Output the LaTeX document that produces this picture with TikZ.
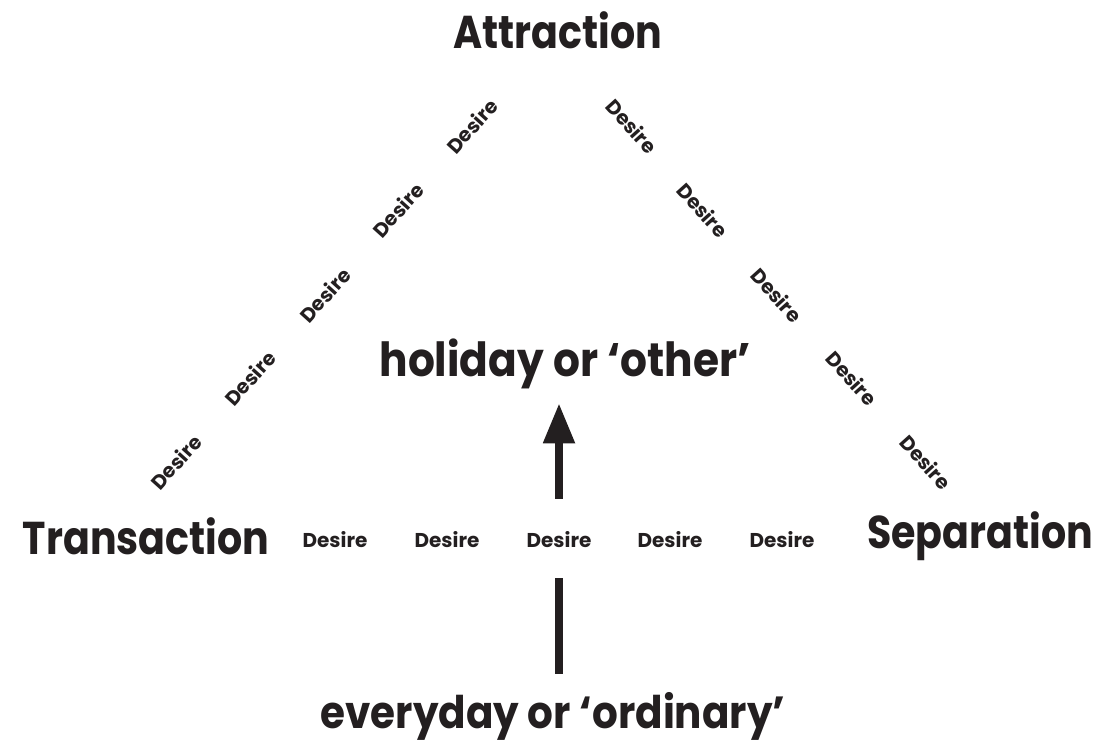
\documentclass[tikz,border=0pt]{standalone}
\usepackage{fontspec}
\setmainfont{Poppins}
\newfontfamily\popnarrow{Poppins}[FakeStretch=0.86]
\newfontfamily\popmid{Poppins}[FakeStretch=0.9]
\usetikzlibrary{arrows.meta}
\definecolor{ink}{HTML}{231F20}
\tikzset{
	big/.style={text=ink, font=\popnarrow\fontsize{46}{50}\selectfont\bfseries, inner sep=0pt},
	pole/.style={text=ink, font=\popmid\fontsize{45}{50}\selectfont\bfseries, inner sep=0pt},
	desire/.style={text=ink, font=\fontsize{20}{22}\selectfont\bfseries, inner sep=0pt},
	bar/.style={draw=ink, line width=8pt}
}
\begin{document}
\begin{tikzpicture}[x=1pt, y=-1pt]
	\useasboundingbox (0, 0) rectangle (1107, 744);
	% Corners and poles:
	\node[big] (attr) at (558, 30) {Attraction};
	\node[big] (trans) at (146, 536) {Transaction};
	\node[big] (sep) at (980, 536) {Separation};
	\node[pole, font=\popmid\fontsize{47}{50}\selectfont\bfseries] (other) at (565, 364) {holiday or ‘other’};
	\node[pole] (ordin) at (553, 716) {everyday or ‘ordinary’};
	% Desire along the base:
	\node[desire] (b1) at (335, 540) {Desire};
	\node[desire] (b2) at (447, 540) {Desire};
	\node[desire] (b3) at (559, 540) {Desire};
	\node[desire] (b4) at (670, 540) {Desire};
	\node[desire] (b5) at (782, 540) {Desire};
	% Desire along the left side:
	\node[desire, rotate=48] (l1) at (176, 462) {Desire};
	\node[desire, rotate=48] (l2) at (250, 378) {Desire};
	\node[desire, rotate=48] (l3) at (325, 295) {Desire};
	\node[desire, rotate=48] (l4) at (398, 210) {Desire};
	\node[desire, rotate=48] (l5) at (472, 126) {Desire};
	% Desire along the right side:
	\node[desire, rotate=-48] (r1) at (632, 126) {Desire};
	\node[desire, rotate=-48] (r2) at (703, 210) {Desire};
	\node[desire, rotate=-48] (r3) at (777, 295) {Desire};
	\node[desire, rotate=-48] (r4) at (852, 378) {Desire};
	\node[desire, rotate=-48] (r5) at (926, 462) {Desire};
	% Arrow from ordinary to other:
	\draw[bar, -{Triangle[width=30pt, length=40pt]}, shorten <=33pt, shorten >=14pt] (b3.north) -- (other.south -| b3.north);
	\draw[bar, shorten <=18pt, shorten >=30pt] (b3.south |- ordin.north) -- (b3.south);
\end{tikzpicture}
\end{document}
